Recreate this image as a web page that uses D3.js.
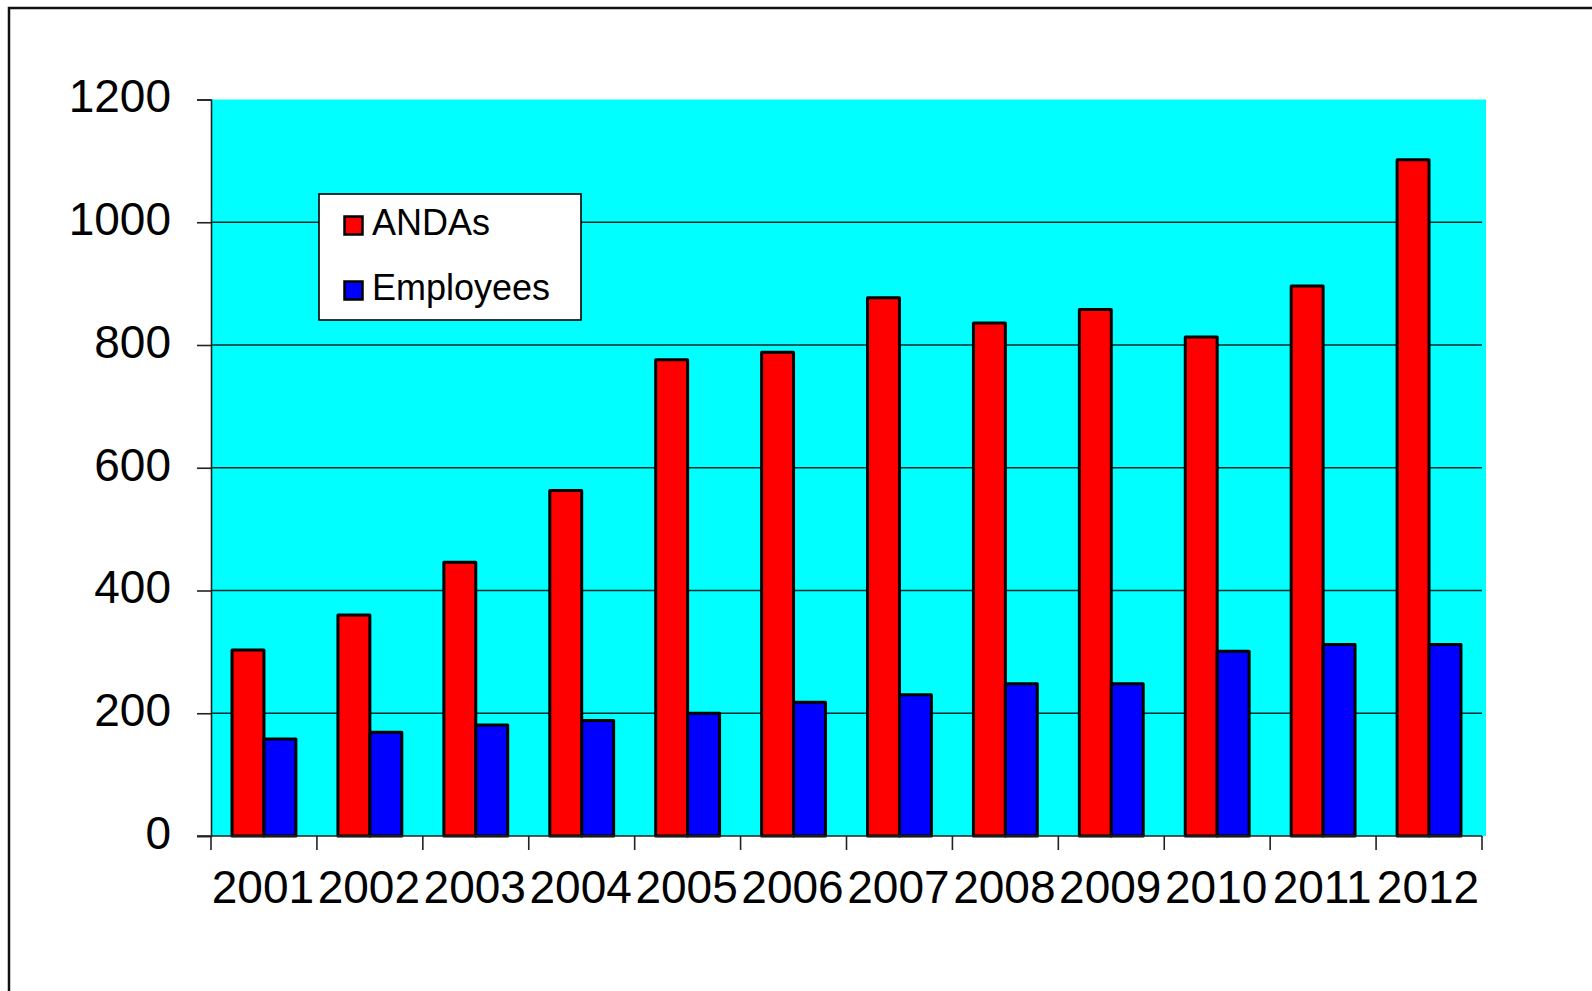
<!DOCTYPE html>
<html>
<head>
<meta charset="utf-8">
<script src="https://cdn.jsdelivr.net/npm/d3@7"></script>
<style>
  html, body { margin: 0; padding: 0; background: #fff; }
  svg { display: block; }
  text { font-family: "Liberation Sans", Arial, sans-serif; fill: #000; }
</style>
</head>
<body>
<svg id="chart" width="1592" height="991"></svg>
<script>
// Years on the category axis
const years = ["2001", "2002", "2003", "2004", "2005", "2006",
               "2007", "2008", "2009", "2010", "2011", "2012"];
// Series names and values per year
const seriesNames = ["ANDAs", "Employees"];
const andas     = [303, 360, 446, 563, 776, 788, 877, 836, 858, 813, 896, 1102];
const employees = [158, 169, 181, 188, 200, 218, 230, 248, 248, 301, 312, 312];
// Value-axis ticks
const yTicks = [0, 200, 400, 600, 800, 1000, 1200];

const colors = { ANDAs: "#ff0000", Employees: "#0000ff" };
const values = { ANDAs: andas, Employees: employees };

const svg = d3.select("#chart");

// Outer frame (open on the right and bottom)
svg.append("path")
  .attr("d", "M9,991 L9,8 L1592,8")
  .attr("fill", "none")
  .attr("stroke", "#111")
  .attr("stroke-width", 2.5);

const plot = { left: 211, right: 1482, top: 99.5, bottom: 836 };

const y = d3.scaleLinear().domain([0, 1200]).range([plot.bottom, plot.top]);
const x0 = d3.scaleBand().domain(years)
  .range([plot.left, plot.right])
  .paddingInner(0.397).paddingOuter(0.1985);
const x1 = d3.scaleBand().domain(seriesNames).range([0, x0.bandwidth()]);

// Plot area background
svg.append("rect")
  .attr("x", plot.left).attr("y", plot.top)
  .attr("width", plot.right + 4 - plot.left)
  .attr("height", plot.bottom - plot.top)
  .attr("fill", "#00ffff");

// Horizontal gridlines
svg.append("g").selectAll("line")
  .data(yTicks.filter(d => d > 0 && d < 1200))
  .join("line")
  .attr("x1", plot.left).attr("x2", plot.right)
  .attr("y1", d => y(d)).attr("y2", d => y(d))
  .attr("stroke", "#0a2a2a").attr("stroke-width", 1.6);

// Bars
const groups = svg.append("g").selectAll("g")
  .data(years)
  .join("g")
  .attr("transform", d => `translate(${x0(d)},0)`);

groups.selectAll("rect")
  .data((d, i) => seriesNames.map(s => ({ s, v: values[s][i] })))
  .join("rect")
  .attr("x", d => x1(d.s))
  .attr("width", x1.bandwidth())
  .attr("y", d => y(d.v))
  .attr("height", d => y(0) - y(d.v))
  .attr("fill", d => colors[d.s])
  .attr("stroke", "#000")
  .attr("stroke-width", 3)
  .attr("stroke-linejoin", "round");

// Y axis
const yAxis = svg.append("g")
  .attr("transform", `translate(${plot.left},0)`)
  .call(d3.axisLeft(y).tickValues(yTicks).tickSize(14).tickPadding(26)
        .tickFormat(d3.format("d")));
yAxis.select(".domain").attr("stroke", "#222").attr("stroke-width", 1.6);
yAxis.selectAll(".tick line").attr("stroke", "#222").attr("stroke-width", 1.6);
yAxis.selectAll(".tick text")
  .attr("font-size", 46)
  .attr("font-family", "'Liberation Sans', Arial, sans-serif")
  .attr("fill", "#000")
  .attr("dy", "0.27em");

// X axis: ticks at category boundaries
const xAxisG = svg.append("g")
  .attr("transform", `translate(0,${plot.bottom})`);
xAxisG.append("line")
  .attr("x1", plot.left - 14).attr("x2", plot.right)
  .attr("y1", 0).attr("y2", 0)
  .attr("stroke", "#222").attr("stroke-width", 1.6);
const step = x0.step();
const boundaries = years.map(d => x0(d) - x0.paddingOuter() * step)
  .concat([x0(years[years.length - 1]) - x0.paddingOuter() * step + step]);
xAxisG.selectAll("line.tk")
  .data(boundaries)
  .join("line")
  .attr("class", "tk")
  .attr("x1", d => d).attr("x2", d => d)
  .attr("y1", 0).attr("y2", 14)
  .attr("stroke", "#222").attr("stroke-width", 1.6);
xAxisG.selectAll("text")
  .data(years)
  .join("text")
  .attr("x", d => x0(d) + x0.bandwidth() / 2 - 1)
  .attr("y", 67)
  .attr("text-anchor", "middle")
  .attr("font-size", 46)
  .text(d => d);

// Legend
const legend = svg.append("g").attr("transform", "translate(319,194)");
legend.append("rect")
  .attr("width", 262).attr("height", 126)
  .attr("fill", "#fff").attr("stroke", "#000").attr("stroke-width", 1.6);
const items = legend.selectAll("g.item")
  .data(seriesNames)
  .join("g")
  .attr("class", "item")
  .attr("transform", (d, i) => `translate(0,${i * 65})`);
items.append("rect")
  .attr("x", 25.5).attr("y", 22.5)
  .attr("width", 18).attr("height", 18)
  .attr("fill", d => colors[d])
  .attr("stroke", "#000").attr("stroke-width", 2.5);
items.append("text")
  .attr("x", 53).attr("y", 41)
  .attr("font-size", 36)
  .text(d => d);
</script>
</body>
</html>
